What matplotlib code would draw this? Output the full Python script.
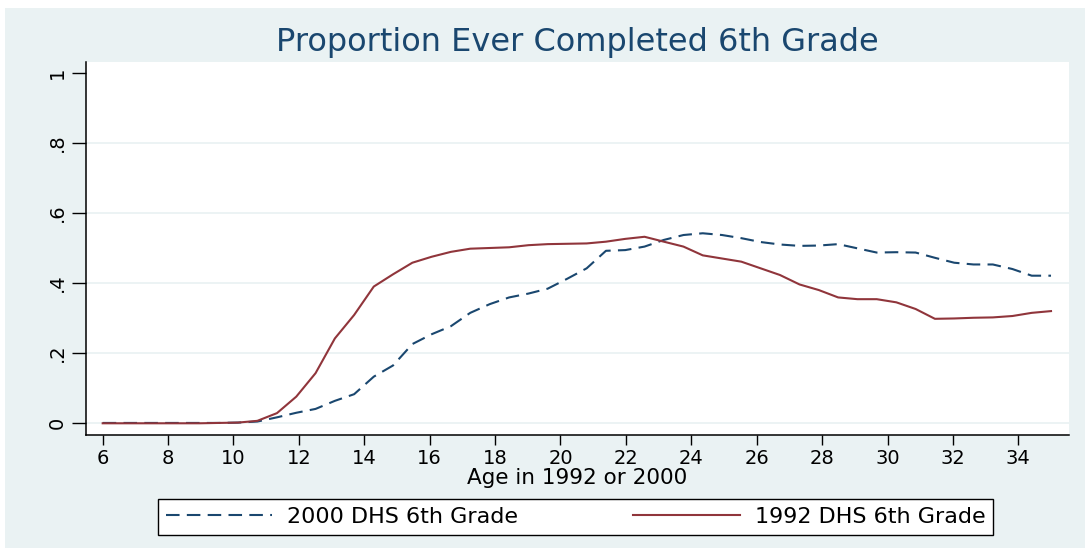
import matplotlib
matplotlib.use('Agg')
import matplotlib.pyplot as plt
from matplotlib.patches import Rectangle

# age in 1992 or 2000
ages = [6.00, 6.59, 7.18, 7.78, 8.37, 8.96, 9.55, 10.14, 10.73, 11.33,
        11.92, 12.51, 13.10, 13.69, 14.29, 14.88, 15.47, 16.06, 16.65, 17.24,
        17.84, 18.43, 19.02, 19.61, 20.20, 20.80, 21.39, 21.98, 22.57, 23.16,
        23.76, 24.35, 24.94, 25.53, 26.12, 26.71, 27.31, 27.90, 28.49, 29.08,
        29.67, 30.27, 30.86, 31.45, 32.04, 32.63, 33.22, 33.82, 34.41, 35.00]

# proportion ever completed 6th grade
dhs2000 = [0.001, 0.001, 0.001, 0.001, 0.001, 0.001, 0.001, 0.002, 0.005, 0.017,
           0.030, 0.041, 0.064, 0.083, 0.133, 0.165, 0.226, 0.254, 0.277, 0.315,
           0.340, 0.359, 0.370, 0.384, 0.412, 0.442, 0.492, 0.494, 0.504, 0.523,
           0.537, 0.542, 0.537, 0.528, 0.517, 0.510, 0.506, 0.507, 0.511, 0.499,
           0.487, 0.488, 0.487, 0.472, 0.458, 0.453, 0.453, 0.440, 0.421, 0.421]
dhs1992 = [0.000, 0.000, 0.000, 0.000, 0.000, 0.000, 0.001, 0.002, 0.007, 0.029,
           0.076, 0.143, 0.242, 0.309, 0.390, 0.425, 0.458, 0.475, 0.489, 0.498,
           0.500, 0.502, 0.508, 0.511, 0.512, 0.513, 0.518, 0.526, 0.532, 0.518,
           0.504, 0.479, 0.470, 0.461, 0.442, 0.423, 0.396, 0.380, 0.359, 0.354,
           0.354, 0.345, 0.326, 0.298, 0.299, 0.301, 0.302, 0.306, 0.315, 0.320]

xticks = list(range(6, 35, 2))
yticks = [0, 0.2, 0.4, 0.6, 0.8, 1]
ytick_labels = ['0', '.2', '.4', '.6', '.8', '1']

bg = '#EAF2F3'
navy = '#1a476f'
maroon = '#90353b'

W, H = 1089, 552
fig = plt.figure(figsize=(W / 100, H / 100), dpi=100)
fig.patch.set_facecolor('white')
fig.patches.append(Rectangle((5 / W, 4 / H), 1080 / W, 540 / H,
                             transform=fig.transFigure, facecolor=bg,
                             edgecolor='none', zorder=-10))

ax = fig.add_axes([86 / W, 117 / H, 983 / W, 373 / H])
ax.set_facecolor('white')

ax.plot(ages, dhs2000, color=navy, lw=1.5, dashes=(6.5, 3.5),
        label='2000 DHS 6th Grade')
ax.plot(ages, dhs1992, color=maroon, lw=1.5, label='1992 DHS 6th Grade')

ax.set_xlim(5.49, 35.55)
ax.set_ylim(-0.0334, 1.0305)

for v in yticks[:-1]:
    ax.axhline(v, color=bg, lw=1.3, zorder=0)

ax.set_xticks(xticks)
ax.set_yticks(yticks)
ax.set_yticklabels(ytick_labels, rotation=90, va='center')
ax.tick_params(axis='y', length=10, width=1, pad=4, labelsize=14)
ax.tick_params(axis='x', length=7, width=1, pad=3, labelsize=14)

for s in ['top', 'right']:
    ax.spines[s].set_visible(False)
for s in ['left', 'bottom']:
    ax.spines[s].set_linewidth(1.1)

ax.set_xlabel('Age in 1992 or 2000', fontsize=15.5)
ax.xaxis.set_label_coords(0.5, -0.115)
ax.xaxis.label.set_va('center')

fig.text(577 / W, 1 - 43 / H, 'Proportion Ever Completed 6th Grade',
         ha='center', va='center', fontsize=23, color=navy)

leg = fig.legend(loc='lower left', ncol=2, mode='expand',
                 bbox_to_anchor=(158 / W, 1 - 535 / H, 835 / W, 38 / H),
                 fontsize=16, handlelength=4.8, handletextpad=0.65,
                 fancybox=False, edgecolor='black', framealpha=1,
                 borderaxespad=0, borderpad=0.35)
leg.get_frame().set_linewidth(1)

fig.savefig('out.png', dpi=100, facecolor=fig.get_facecolor())
